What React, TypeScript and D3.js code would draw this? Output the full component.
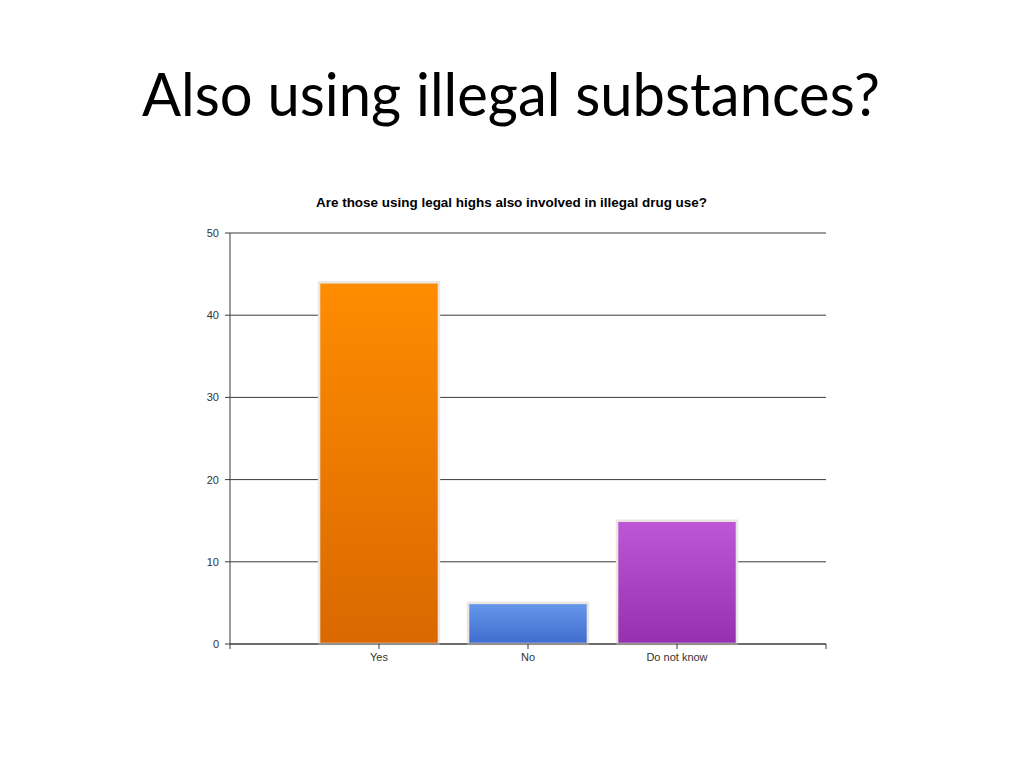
import React from "react";
import * as d3 from "d3";

const categories: string[] = ["Yes", "No", "Do not know"];
const values: number[] = [44, 5, 15];
const yTicks: number[] = [0, 10, 20, 30, 40, 50];
const gradients: [string, string][] = [
  ["#ff8c00", "#d96800"],
  ["#6797ea", "#3f6ccf"],
  ["#bd57d8", "#962fb0"],
];

export default function App() {
  const W = 1024, H = 768;
  const left = 230, right = 826, top = 233, bottom = 644;
  const x = d3.scaleLinear().domain([0, categories.length + 1]).range([left, right]);
  const y = d3.scaleLinear().domain([0, 50]).range([bottom, top]);
  const step = x(1) - x(0);
  const bw = step * 0.805;
  const xTickIdx = d3.range(1, categories.length + 2);

  return (
    <svg width={W} height={H} style={{ position: "absolute", left: 0, top: 0, background: "#fff" }}>
      <defs>
        {gradients.map((g, i) => (
          <linearGradient key={i} id={`g${i}`} x1="0" y1="0" x2="0" y2="1">
            <stop offset="0%" stopColor={g[0]} />
            <stop offset="100%" stopColor={g[1]} />
          </linearGradient>
        ))}
      </defs>
      <text x={511} y={116} textAnchor="middle" fontFamily="Lato, 'Open Sans', sans-serif" fontSize={60}
        textLength={738} lengthAdjust="spacingAndGlyphs" fill="#000">
        Also using illegal substances?
      </text>
      <text x={511.5} y={207} textAnchor="middle" fontFamily="'Liberation Sans', Arial, sans-serif"
        fontSize={13} fontWeight="bold" fill="#000" textLength={391} lengthAdjust="spacingAndGlyphs">
        Are those using legal highs also involved in illegal drug use?
      </text>
      {yTicks.map((t) => (
        <g key={t}>
          <line x1={left - 5} x2={right} y1={y(t)} y2={y(t)} stroke="#3a3a3a" strokeWidth={1} />
          <text x={219} y={y(t) + 4} textAnchor="end" fontFamily="'Liberation Sans', Arial, sans-serif"
            fontSize={11} fill="#333">{t}</text>
        </g>
      ))}
      <line x1={left} x2={left} y1={top} y2={bottom + 5} stroke="#3a3a3a" strokeWidth={1} />
      {categories.map((c, i) => {
        const cx = x(i + 1);
        return (
          <g key={c}>
            <rect x={cx - bw / 2} y={y(values[i])} width={bw} height={y(0) - y(values[i])}
              fill={`url(#g${i})`} stroke="#ece6e0" strokeWidth={2.5} />
            <text x={cx} y={661} textAnchor="middle" fontFamily="'Liberation Sans', Arial, sans-serif"
              fontSize={11} fill="#333">{c}</text>
          </g>
        );
      })}
      <line x1={left} x2={right} y1={bottom} y2={bottom} stroke="#3a3a3a" strokeWidth={1} />
      {xTickIdx.map((k) => (
        <line key={k} x1={x(k)} x2={x(k)} y1={bottom} y2={bottom + 5} stroke="#3a3a3a" strokeWidth={1} />
      ))}
    </svg>
  );
}
